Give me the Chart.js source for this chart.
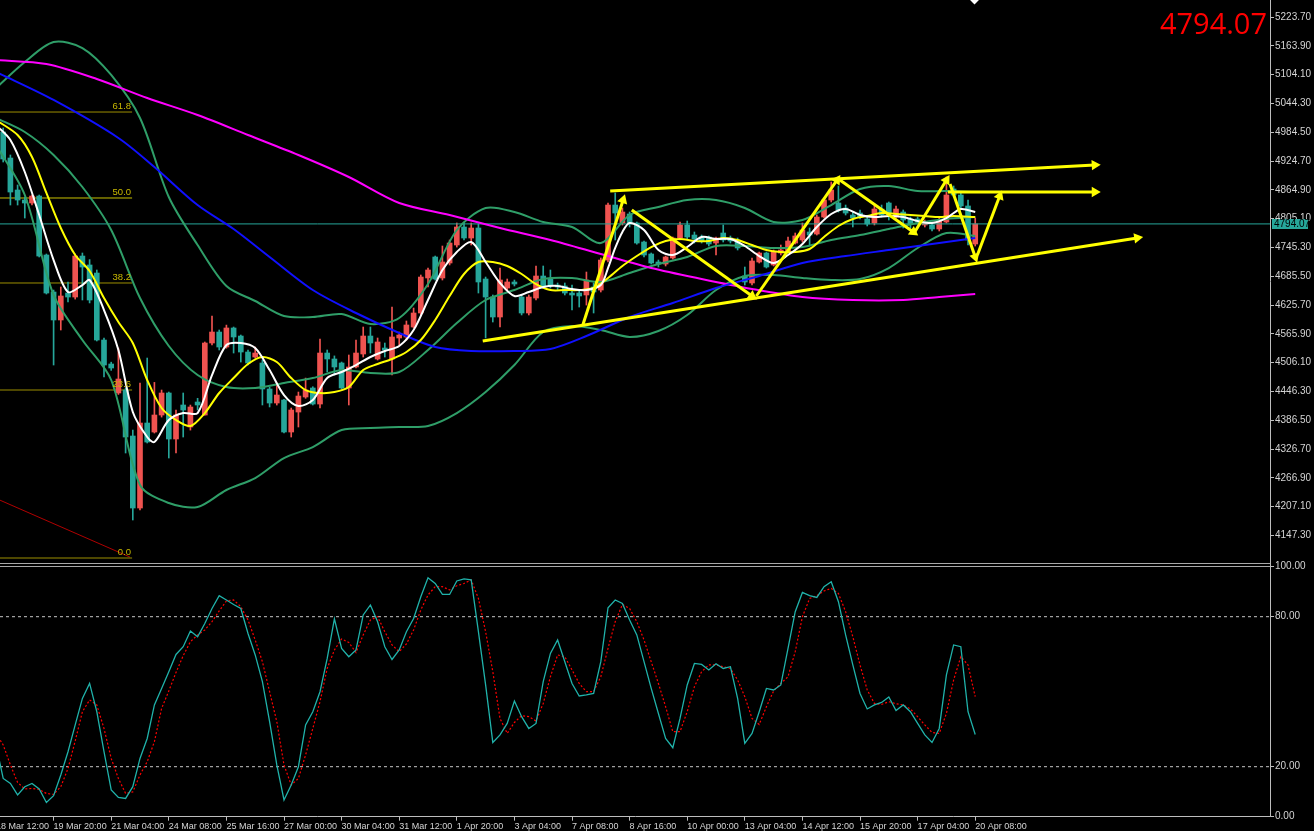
<!DOCTYPE html>
<html>
<head>
<meta charset="utf-8">
<title>H4 chart</title>
<script src="https://cdn.jsdelivr.net/npm/chart.js@4.4.1/dist/chart.umd.min.js"></script>
<style>
    html, body { margin: 0; padding: 0; background: #000; }
    #wrap { position: relative; width: 1314px; height: 831px; overflow: hidden; background: #000; }
    #mainBox { position: absolute; left: 0; top: 0; width: 1314px; height: 562px; }
    #oscBox { position: absolute; left: 0; top: 560px; width: 1314px; height: 271px; }
    .hsep { position: absolute; left: 0; width: 1271px; height: 1px; background: #a8a8a8; }
    .vsep { position: absolute; left: 1270px; top: 560px; width: 1px; height: 8px; background: #bbbbbb; }
    #bigPrice { position: absolute; right: 47px; top: 7.5px; font: 29px 'Open Sans', 'Liberation Sans', sans-serif; line-height: 29px; color: #ff0000; }
    #shift { position: absolute; left: 971px; top: -4px; width: 7px; height: 7px; background: #fff; transform: rotate(45deg); }
</style>
</head>
<body>
<div id="wrap">
    <div id="mainBox"><canvas id="mainChart"></canvas></div>
    <div class="hsep" style="top:563px"></div>
    <div class="hsep" style="top:566px"></div>
    <div class="vsep"></div>
    <div id="oscBox"><canvas id="oscChart"></canvas></div>
    <div id="bigPrice">4794.07</div>
    <div id="shift"></div>
</div>
<script>
/* global Chart */

// H4 candles, bar index 0..136 (18 Mar 12:00 .. 20 Apr 08:00)
const opens = [
    5005.7, 4984.9, 4930.9, 4864.5, 4843.7, 4837.5, 4852.0, 4729.5, 4652.7, 4594.6,
    4650.6, 4642.3, 4727.4, 4708.8, 4692.1, 4553.0, 4503.2, 4443.0, 4449.2, 4353.7,
    4204.2, 4380.7, 4362.0, 4397.3, 4443.0, 4347.5, 4418.1, 4372.4, 4424.3, 4397.3,
    4546.8, 4569.6, 4538.5, 4578.0, 4561.3, 4528.1, 4517.7, 4505.3, 4451.3, 4422.2,
    4428.4, 4362.0, 4403.5, 4434.7, 4453.4, 4420.1, 4526.0, 4513.6, 4505.3, 4453.4,
    4497.0, 4524.0, 4561.3, 4513.6, 4536.4, 4513.6, 4557.2, 4559.3, 4580.0, 4609.1,
    4681.8, 4725.4, 4681.8, 4712.9, 4750.3, 4787.7, 4764.8, 4785.6, 4679.7, 4642.3,
    4600.8, 4661.0, 4673.5, 4642.3, 4609.1, 4640.2, 4685.9, 4679.7, 4667.2, 4665.2,
    4650.6, 4650.6, 4646.5, 4663.1, 4656.8, 4719.1, 4833.3, 4796.0, 4814.7, 4796.0,
    4756.5, 4731.6, 4715.0, 4710.8, 4723.3, 4764.8, 4791.8, 4771.0, 4766.9, 4766.9,
    4754.4, 4775.2, 4764.8, 4760.7, 4685.9, 4671.4, 4715.0, 4733.7, 4708.8, 4733.7,
    4735.7, 4754.4, 4760.7, 4777.3, 4773.1, 4808.4, 4843.7, 4837.5, 4827.1, 4812.6,
    4816.7, 4804.3, 4796.0, 4825.0, 4837.5, 4808.4, 4818.8, 4804.3, 4804.3, 4791.8,
    4791.8, 4783.5, 4798.0, 4866.6, 4854.1, 4831.3, 4752.4
];
const highs = [
    5014.0, 4993.2, 4937.2, 4874.9, 4849.9, 4854.1, 4854.1, 4731.6, 4656.8, 4663.1,
    4673.5, 4731.6, 4733.7, 4720.0, 4698.4, 4557.2, 4507.0, 4536.4, 4453.4, 4366.1,
    4463.7, 4515.6, 4465.0, 4449.2, 4445.0, 4407.7, 4443.0, 4418.0, 4432.0, 4548.9,
    4602.9, 4573.8, 4584.0, 4580.0, 4563.4, 4532.0, 4538.5, 4511.5, 4455.0, 4463.7,
    4430.0, 4411.8, 4445.0, 4474.0, 4456.0, 4555.1, 4532.3, 4520.0, 4507.3, 4521.9,
    4553.0, 4580.0, 4580.0, 4557.2, 4546.8, 4621.5, 4569.6, 4592.5, 4619.4, 4688.0,
    4702.5, 4727.4, 4748.2, 4760.7, 4796.0, 4798.0, 4796.0, 4794.0, 4683.8, 4646.5,
    4702.5, 4679.7, 4677.6, 4646.5, 4646.5, 4706.7, 4706.7, 4698.4, 4671.4, 4671.4,
    4667.2, 4656.8, 4694.2, 4671.4, 4723.3, 4837.5, 4858.3, 4827.1, 4818.8, 4798.0,
    4758.6, 4733.7, 4719.1, 4727.4, 4766.9, 4798.0, 4800.1, 4777.3, 4771.0, 4769.0,
    4766.9, 4791.8, 4769.0, 4764.8, 4704.6, 4723.3, 4735.7, 4735.7, 4739.9, 4750.3,
    4766.9, 4775.2, 4796.0, 4785.6, 4812.6, 4847.9, 4881.1, 4872.8, 4833.3, 4818.8,
    4823.0, 4808.4, 4831.3, 4833.3, 4839.6, 4831.3, 4823.0, 4808.4, 4808.4, 4802.2,
    4798.0, 4808.4, 4891.5, 4872.8, 4860.3, 4843.7, 4806.3
];
const lows = [
    4978.7, 4922.6, 4833.3, 4833.3, 4806.3, 4833.3, 4725.4, 4648.5, 4501.1, 4573.8,
    4631.9, 4638.0, 4636.1, 4630.0, 4551.0, 4476.2, 4490.0, 4440.0, 4318.4, 4179.3,
    4200.0, 4339.2, 4359.9, 4393.0, 4308.0, 4318.4, 4351.6, 4366.0, 4407.7, 4397.0,
    4542.6, 4532.3, 4536.0, 4526.0, 4507.3, 4501.1, 4515.6, 4418.1, 4414.0, 4418.0,
    4359.9, 4351.6, 4372.4, 4432.0, 4418.1, 4411.8, 4486.6, 4480.3, 4451.3, 4418.1,
    4494.9, 4517.7, 4526.0, 4511.5, 4517.7, 4480.3, 4542.6, 4553.0, 4578.0, 4605.0,
    4663.1, 4677.6, 4677.6, 4708.8, 4746.0, 4760.7, 4750.3, 4650.6, 4557.2, 4590.4,
    4580.0, 4656.8, 4665.2, 4605.0, 4605.0, 4636.1, 4661.0, 4661.0, 4656.8, 4646.5,
    4615.3, 4621.5, 4625.6, 4609.1, 4652.7, 4715.0, 4760.7, 4791.8, 4787.7, 4752.0,
    4725.4, 4710.8, 4704.6, 4706.7, 4721.0, 4760.7, 4762.7, 4754.4, 4754.4, 4748.2,
    4729.5, 4756.5, 4754.4, 4739.9, 4667.2, 4667.2, 4712.9, 4702.5, 4706.7, 4729.5,
    4733.7, 4752.4, 4756.5, 4750.3, 4771.0, 4806.3, 4839.6, 4818.8, 4812.6, 4787.7,
    4804.3, 4789.8, 4791.8, 4808.4, 4802.2, 4806.3, 4785.6, 4785.6, 4793.9, 4787.7,
    4779.4, 4779.4, 4796.0, 4849.9, 4827.1, 4750.3, 4748.2
];
const closes = [
    4984.9, 4928.9, 4860.3, 4843.7, 4837.5, 4852.0, 4727.4, 4650.6, 4594.6, 4644.4,
    4642.3, 4727.4, 4704.6, 4636.1, 4553.0, 4501.1, 4494.9, 4472.0, 4351.6, 4204.2,
    4380.7, 4341.2, 4397.3, 4443.0, 4347.5, 4397.3, 4407.7, 4413.9, 4418.1, 4546.8,
    4569.6, 4538.5, 4578.0, 4559.3, 4528.1, 4505.3, 4526.0, 4451.3, 4422.2, 4438.8,
    4362.0, 4407.7, 4436.7, 4449.2, 4420.1, 4526.0, 4513.6, 4497.0, 4453.4, 4497.0,
    4526.0, 4561.3, 4546.8, 4548.9, 4532.3, 4559.3, 4563.4, 4584.2, 4609.1, 4683.8,
    4698.4, 4679.7, 4715.0, 4754.4, 4787.7, 4764.8, 4785.6, 4673.5, 4642.3, 4600.8,
    4677.6, 4673.5, 4669.3, 4609.1, 4642.3, 4685.9, 4663.1, 4667.2, 4663.1, 4650.6,
    4646.5, 4644.4, 4677.6, 4652.7, 4719.1, 4833.3, 4816.7, 4818.8, 4796.0, 4754.4,
    4729.5, 4712.9, 4710.8, 4725.4, 4764.8, 4791.8, 4766.9, 4762.7, 4758.6, 4752.4,
    4764.8, 4760.7, 4758.6, 4744.1, 4673.5, 4717.1, 4733.7, 4704.6, 4735.7, 4739.9,
    4758.6, 4769.0, 4781.4, 4771.0, 4808.4, 4843.7, 4864.5, 4823.0, 4816.7, 4806.3,
    4808.4, 4793.9, 4825.0, 4812.6, 4816.7, 4825.0, 4802.2, 4793.9, 4798.0, 4798.0,
    4783.5, 4800.1, 4854.1, 4854.1, 4831.3, 4760.7, 4794.07
];

// time axis
const tickBars = [0, 8, 16, 24, 32, 40, 48, 56, 64, 72, 80, 88, 96, 104, 112, 120, 128, 136];
const timeLabels = ['18 Mar 12:00', '19 Mar 20:00', '21 Mar 04:00', '24 Mar 08:00', '25 Mar 16:00',
    '27 Mar 00:00', '30 Mar 04:00', '31 Mar 12:00', '1 Apr 20:00', '3 Apr 04:00', '7 Apr 08:00',
    '8 Apr 16:00', '10 Apr 00:00', '13 Apr 04:00', '14 Apr 12:00', '15 Apr 20:00', '17 Apr 04:00',
    '20 Apr 08:00'];
const xMin = 0.556;
const xMax = 176.94;

// price axis
const priceTicks = [4147.3, 4207.1, 4266.9, 4326.7, 4386.5, 4446.3, 4506.1, 4565.9, 4625.7,
    4685.5, 4745.3, 4805.1, 4864.9, 4924.7, 4984.5, 5044.3, 5104.1, 5163.9, 5223.7];
const priceMin = 4092.1;
const priceMax = 5259.0;

// moving averages
const magentaBars = [0, 7, 14, 21, 28, 35, 42, 49, 56, 63, 70, 77, 84, 91, 98, 105, 112, 119, 126, 131, 136];
const magentaVals = [5134.4, 5126.1, 5095.0, 5055.5, 5020.2, 4978.7, 4937.2, 4891.5, 4837.5, 4812.6,
    4785.6, 4760.7, 4731.6, 4702.5, 4679.7, 4659.0, 4642.3, 4636.1, 4636.1, 4642.3, 4648.5];

const blueBars = [0, 8, 17, 22, 28, 33, 38, 44, 50, 56, 61, 66, 72, 77, 82, 88, 94, 100, 106, 112, 118, 124, 130, 136];
const blueVals = [5109.5, 5051.4, 4972.5, 4912.2, 4833.3, 4783.5, 4725.4, 4656.8, 4609.1, 4567.6,
    4538.5, 4530.2, 4530.2, 4534.4, 4561.3, 4600.8, 4629.9, 4661.0, 4685.9, 4712.9, 4727.4,
    4739.9, 4752.4, 4764.8];

// bollinger bands
const bbBars = [0, 4, 8, 12, 16, 20, 24, 28, 32, 36, 40, 44, 48, 52, 56, 60, 64, 68, 72, 76, 80,
    84, 88, 92, 96, 100, 104, 108, 112, 116, 120, 124, 128, 132, 136];
const bbUpper = [5076.3, 5130.3, 5171.8, 5159.3, 5103.3, 5014.0, 4849.9, 4750.3, 4665.1, 4634.0,
    4602.9, 4600.8, 4607.0, 4586.2, 4598.7, 4669.3, 4781.4, 4827.1, 4818.8, 4798.0, 4787.7,
    4754.4, 4812.6, 4829.2, 4843.7, 4843.7, 4827.1, 4798.0, 4802.2, 4833.3, 4866.6, 4872.8,
    4862.4, 4862.4, 4860.3];
const bbMiddle = [5014.0, 4984.9, 4937.2, 4870.7, 4781.4, 4640.2, 4540.6, 4480.3, 4455.4, 4453.4,
    4463.7, 4474.1, 4490.7, 4484.5, 4486.6, 4532.3, 4588.3, 4636.1, 4656.8, 4679.7, 4681.8,
    4673.5, 4692.1, 4710.8, 4725.4, 4748.2, 4748.2, 4744.1, 4746.1, 4760.7, 4771.0, 4783.5,
    4796.0, 4804.3, 4808.4];
const bbLower = [4957.9, 4854.1, 4646.5, 4553.0, 4470.0, 4251.9, 4214.6, 4206.3, 4241.6, 4266.5,
    4308.0, 4330.8, 4366.1, 4370.3, 4372.4, 4374.5, 4401.4, 4445.0, 4501.1, 4569.6, 4582.1,
    4573.8, 4559.3, 4571.7, 4604.9, 4656.8, 4685.9, 4688.0, 4681.8, 4677.6, 4679.7, 4702.5,
    4744.1, 4775.2, 4769.0];

const whiteBars = [0, 2, 4, 6, 8, 10, 12, 13, 15, 17, 19, 21, 22, 24, 26, 28, 30, 32, 34, 36, 38,
    40, 42, 44, 46, 48, 50, 52, 54, 56, 58, 60, 62, 64, 66, 68, 70, 72, 74, 76, 78, 80, 82, 84,
    85, 86, 87, 88, 90, 92, 94, 96, 98, 100, 102, 104, 106, 108, 110, 112, 114, 116, 118, 120,
    122, 124, 126, 128, 130, 132, 134, 136];
const whiteVals = [4999.5, 4968.3, 4901.9, 4812.6, 4719.1, 4652.7, 4667.2, 4677.6, 4615.3, 4532.3,
    4403.5, 4351.6, 4341.2, 4386.9, 4401.4, 4401.4, 4480.3, 4542.6, 4546.8, 4536.4, 4490.7,
    4438.8, 4416.0, 4428.4, 4474.1, 4486.6, 4501.1, 4517.7, 4530.2, 4540.6, 4573.8, 4636.1,
    4698.4, 4735.7, 4756.5, 4715.0, 4671.4, 4644.4, 4652.7, 4663.1, 4665.2, 4658.9, 4656.8,
    4667.2, 4702.5, 4744.1, 4777.3, 4796.0, 4781.4, 4739.9, 4729.5, 4746.1, 4766.9, 4762.7,
    4762.7, 4748.2, 4727.4, 4712.9, 4729.5, 4752.4, 4787.7, 4814.7, 4825.0, 4812.6, 4808.4,
    4810.5, 4808.4, 4800.1, 4796.0, 4806.3, 4825.0, 4818.8];

const yellowBars = [0, 3, 5, 7, 9, 11, 13, 15, 17, 19, 21, 23, 25, 27, 29, 31, 33, 35, 37, 39, 41,
    43, 45, 47, 49, 51, 53, 55, 57, 59, 61, 63, 65, 67, 69, 71, 73, 75, 77, 79, 81, 83, 85, 87,
    89, 91, 93, 95, 97, 99, 101, 103, 105, 107, 109, 111, 113, 115, 117, 119, 121, 123, 125,
    127, 129, 131, 133, 136];
const yellowVals = [5009.8, 4978.7, 4933.0, 4858.3, 4785.6, 4729.5, 4696.3, 4640.2, 4590.4, 4546.8,
    4470.0, 4411.8, 4386.9, 4374.5, 4401.4, 4443.0, 4474.1, 4503.2, 4517.7, 4507.3, 4474.1,
    4449.2, 4443.0, 4445.0, 4455.4, 4490.7, 4503.2, 4513.6, 4528.1, 4553.0, 4594.6, 4644.4,
    4690.1, 4715.0, 4715.0, 4706.7, 4690.1, 4669.3, 4656.8, 4656.8, 4656.8, 4661.0, 4681.8,
    4706.7, 4727.4, 4746.1, 4758.6, 4762.7, 4758.6, 4758.6, 4764.8, 4760.7, 4750.3, 4739.9,
    4735.7, 4735.7, 4742.0, 4766.9, 4789.7, 4804.3, 4810.5, 4816.7, 4814.7, 4812.6, 4810.5,
    4808.4, 4810.5, 4808.4];

// fibonacci retracement
const fibLevels = [5026.4, 4847.9, 4671.4, 4449.2, 4100.4];
const fibNames = ['61.8', '50.0', '38.2', '23.6', '0.0'];
const fibBars = [0, 18.9];
const diagBars = [0.5, 18.6];
const diagVals = [4220.8, 4102.4];

// hand drawn arrows: start bar/price, end bar/price
const arrowX0 = [81.5, 88.3, 105.6, 117.2, 127.6, 132.5, 136.3, 85.3, 132.2, 67.6];
const arrowY0 = [4584.2, 4823.0, 4644.4, 4885.2, 4777.3, 4876.9, 4729.5, 4862.4, 4860.3, 4551.0];
const arrowX1 = [87.1, 105.0, 116.8, 127.4, 132.0, 136.0, 139.4, 152.6, 152.6, 158.5];
const arrowY1 = [4843.7, 4644.4, 4885.2, 4777.3, 4885.2, 4725.4, 4852.0, 4916.4, 4860.3, 4764.8];

// stochastic %K and %D
const stochK = [
    28.7, 15.3, 13.3, 8.7, 12.0, 13.3, 11.1, 5.7, 8.4, 16.7,
    26.0, 36.7, 47.3, 53.3, 42.0, 26.0, 10.7, 7.7, 7.3, 12.0,
    23.3, 31.3, 44.7, 51.3, 58.0, 64.9, 68.0, 74.3, 72.0, 77.3,
    83.3, 88.4, 86.7, 84.9, 83.3, 73.3, 64.7, 54.0, 38.0, 20.7,
    6.7, 12.7, 20.0, 36.7, 42.0, 50.0, 63.3, 79.1, 67.3, 64.0,
    66.7, 80.7, 84.7, 78.0, 68.0, 62.9, 66.7, 74.0, 79.3, 88.0,
    95.6, 93.3, 88.9, 88.9, 94.3, 95.1, 94.7, 74.0, 52.7, 29.7,
    32.7, 37.3, 46.3, 40.0, 35.3, 37.3, 54.0, 65.3, 70.7, 62.0,
    53.3, 48.3, 48.7, 49.3, 62.0, 83.6, 86.7, 85.3, 78.7, 72.7,
    62.0, 51.3, 41.3, 31.3, 27.6, 39.3, 52.7, 61.3, 60.9, 58.7,
    61.2, 59.3, 60.0, 47.3, 29.3, 33.3, 42.0, 51.3, 50.7, 52.7,
    67.3, 82.0, 89.7, 88.4, 87.7, 92.0, 94.0, 86.0, 72.7, 60.7,
    49.3, 43.1, 44.7, 45.7, 47.9, 42.5, 44.7, 42.0, 37.3, 32.7,
    29.7, 35.3, 56.7, 68.7, 68.0, 42.0, 32.9
];
const stochD = [
    33.3, 28.7, 20.7, 13.7, 11.1, 11.3, 10.9, 9.3, 8.9, 12.0,
    19.3, 30.3, 42.0, 46.7, 44.7, 35.3, 23.3, 15.3, 9.3, 9.9,
    16.7, 22.0, 30.0, 43.3, 50.3, 57.7, 64.4, 70.0, 72.7, 74.7,
    78.0, 82.3, 86.3, 86.7, 84.0, 78.7, 70.7, 62.0, 50.0, 38.0,
    20.7, 12.7, 15.3, 24.7, 35.3, 46.0, 59.3, 66.7, 71.1, 69.7,
    65.7, 72.7, 78.7, 80.0, 74.0, 68.7, 66.0, 69.1, 74.7, 82.7,
    88.7, 92.0, 92.0, 90.7, 92.4, 93.3, 94.7, 87.3, 74.0, 58.0,
    39.3, 33.3, 37.7, 40.4, 40.0, 38.3, 45.3, 56.0, 64.7, 64.0,
    58.7, 53.3, 50.0, 50.0, 56.0, 67.3, 78.0, 84.9, 83.3, 78.0,
    70.7, 62.0, 53.3, 44.0, 34.0, 34.0, 42.0, 52.0, 58.0, 60.7,
    60.7, 60.0, 59.3, 54.7, 48.0, 39.3, 36.9, 44.0, 50.3, 53.3,
    56.0, 66.0, 80.0, 87.3, 88.4, 90.3, 91.3, 89.3, 82.0, 72.0,
    60.7, 50.7, 45.3, 44.9, 46.0, 45.2, 44.7, 43.1, 40.0, 36.7,
    33.7, 33.3, 41.3, 54.7, 64.0, 60.7, 48.0
];
const oscTicks = [0, 20, 80, 100];
const oscLevels = [20, 80];

const UP = '#ef5350';
const DOWN = '#26a69a';
const AXIS = '#bdbdbd';
const LABEL = '#d4d4d4';
const FONT = "'Liberation Sans Narrow', 'Liberation Sans', sans-serif";
const lastPrice = closes[closes.length - 1];

Chart.defaults.font.family = FONT;
Chart.defaults.animation = false;

const pts = (xs, ys) => xs.map((x, i) => ({ x: x, y: ys[i] }));

function lineSet(data, color, width, order, extra) {
    return Object.assign({
        type: 'line', data: data, borderColor: color, borderWidth: width,
        pointRadius: 0, tension: 0.3, fill: false, order: order
    }, extra || {});
}

function arrowAngle(ctx) {
    const d = ctx.dataset.data;
    const sx = ctx.chart.scales.x, sy = ctx.chart.scales.y;
    const dx = sx.getPixelForValue(d[1].x) - sx.getPixelForValue(d[0].x);
    const dy = sy.getPixelForValue(d[1].y) - sy.getPixelForValue(d[0].y);
    return Math.atan2(dx, -dy) * 180 / Math.PI;
}

const candleColor = ctx => closes[ctx.dataIndex] >= opens[ctx.dataIndex] ? UP : DOWN;

// datasets of the price window
const datasets = [];
arrowX0.forEach((x0, i) => {
    datasets.push(lineSet(pts([x0, arrowX1[i]], [arrowY0[i], arrowY1[i]]), '#ffff00', 3, 0, {
        tension: 0, pointRadius: [0, 6], pointStyle: 'triangle', pointBackgroundColor: '#ffff00',
        pointBorderWidth: 0, pointRotation: arrowAngle
    }));
});
datasets.push(lineSet(pts(whiteBars, whiteVals), '#ffffff', 2, 1));
datasets.push(lineSet(pts(yellowBars, yellowVals), '#ffff00', 2, 2));
datasets.push(lineSet(pts(blueBars, blueVals), '#1010ff', 2, 3));
datasets.push(lineSet(pts(magentaBars, magentaVals), '#ff00ff', 2, 4));
datasets.push(lineSet(pts(bbBars, bbUpper), '#2f9e68', 2, 5));
datasets.push(lineSet(pts(bbBars, bbMiddle), '#2f9e68', 2, 5));
datasets.push(lineSet(pts(bbBars, bbLower), '#2f9e68', 2, 5));
datasets.push(lineSet(pts([xMin, xMax], [lastPrice, lastPrice]), '#26a69a', 1, 6, { tension: 0 }));
datasets.push({
    type: 'bar', order: 7, grouped: false, barThickness: 5, minBarLength: 1, borderWidth: 0,
    data: closes.map((c, i) => ({ x: i, y: [opens[i], c] })),
    backgroundColor: candleColor
});
datasets.push({
    type: 'bar', order: 8, grouped: false, barThickness: 1, borderWidth: 0,
    data: closes.map((c, i) => ({ x: i, y: [lows[i], highs[i]] })),
    backgroundColor: candleColor
});
fibLevels.forEach((lv, i) => {
    const col = fibNames[i] === '50.0' ? '#c8c000' : '#9c8e00';
    datasets.push(lineSet(pts(fibBars, [lv, lv]), col, 1, 9, { tension: 0 }));
});
datasets.push(lineSet(pts(diagBars, diagVals), '#b00000', 1, 9, { tension: 0 }));

// labels of the fibonacci levels
const fibText = {
    id: 'fibText',
    afterDatasetsDraw(chart) {
        const c = chart.ctx, sx = chart.scales.x, sy = chart.scales.y;
        c.save();
        c.font = '9.5px ' + FONT;
        c.fillStyle = '#c8b800';
        c.textAlign = 'right';
        c.textBaseline = 'bottom';
        fibLevels.forEach((lv, i) => {
            c.fillText(fibNames[i], sx.getPixelForValue(fibBars[1]) - 1, sy.getPixelForValue(lv) - 1);
        });
        c.restore();
    }
};

// current price box on the price axis
const priceTag = {
    id: 'priceTag',
    afterDraw(chart) {
        const c = chart.ctx;
        const y = Math.round(chart.scales.y.getPixelForValue(lastPrice));
        const left = chart.chartArea.right + 2;
        c.save();
        c.fillStyle = '#26a69a';
        c.fillRect(left, y - 5, 36, 10);
        c.fillStyle = '#000000';
        c.font = '10px ' + FONT;
        c.textBaseline = 'middle';
        c.fillText(lastPrice.toFixed(2), left + 2, y + 0.5);
        c.restore();
    }
};

const ctx = document.getElementById('mainChart').getContext('2d');
const mainChart = new Chart(ctx, {
    type: 'bar',
    data: { datasets: datasets },
    options: {
        responsive: true,
        maintainAspectRatio: false,
        layout: { padding: 0, autoPadding: false },
        plugins: { legend: { display: false }, tooltip: { enabled: false } },
        scales: {
            x: { type: 'linear', min: xMin, max: xMax, offset: false, display: false },
            y: {
                position: 'right', min: priceMin, max: priceMax,
                afterBuildTicks: s => { s.ticks = priceTicks.map(v => ({ value: v })); },
                afterFit: s => { s.width = 44; s.paddingTop = 0; s.paddingBottom = 0; },
                ticks: { color: LABEL, padding: 1, font: { size: 10 }, callback: v => v.toFixed(2) },
                grid: { drawOnChartArea: false, drawTicks: true, tickLength: 4, color: AXIS },
                border: { display: true, color: AXIS }
            }
        }
    },
    plugins: [fibText, priceTag]
});

// stochastic window
const oscSets = [
    lineSet(pts(stochK.map((v, i) => i), stochK), '#20b2aa', 1.3, 0, { tension: 0 }),
    lineSet(pts(stochD.map((v, i) => i), stochD), '#ff0000', 1.2, 1, { tension: 0, borderDash: [2, 2] })
];
oscLevels.forEach(lv => {
    oscSets.push(lineSet(pts([xMin, xMax], [lv, lv]), '#c8c8c8', 1, 2, { tension: 0, borderDash: [3, 3] }));
});

const ctx2 = document.getElementById('oscChart').getContext('2d');
const oscChart = new Chart(ctx2, {
    type: 'line',
    data: { datasets: oscSets },
    options: {
        responsive: true,
        maintainAspectRatio: false,
        layout: { padding: { top: 6.7, left: 0, right: 0, bottom: 0 }, autoPadding: false },
        plugins: { legend: { display: false }, tooltip: { enabled: false } },
        scales: {
            x: {
                type: 'linear', min: xMin, max: xMax, offset: false,
                afterBuildTicks: s => { s.ticks = tickBars.map(v => ({ value: v })); },
                afterFit: s => { s.height = 14.3; s.paddingLeft = 0; s.paddingRight = 0; },
                ticks: {
                    autoSkip: false, maxRotation: 0, minRotation: 0, align: 'start', padding: 0,
                    color: LABEL, font: { size: 9 }, callback: (v, i) => timeLabels[i]
                },
                grid: { drawOnChartArea: false, drawTicks: true, tickLength: 4, color: AXIS },
                border: { display: true, color: AXIS }
            },
            y: {
                position: 'right', min: 0, max: 100,
                afterBuildTicks: s => { s.ticks = oscTicks.map(v => ({ value: v })); },
                afterFit: s => { s.width = 44; s.paddingTop = 0; s.paddingBottom = 0; },
                ticks: { color: LABEL, padding: 1, font: { size: 10 }, callback: v => v.toFixed(2) },
                grid: { drawOnChartArea: false, drawTicks: true, tickLength: 4, color: AXIS },
                border: { display: true, color: AXIS }
            }
        }
    }
});
</script>
</body>
</html>
